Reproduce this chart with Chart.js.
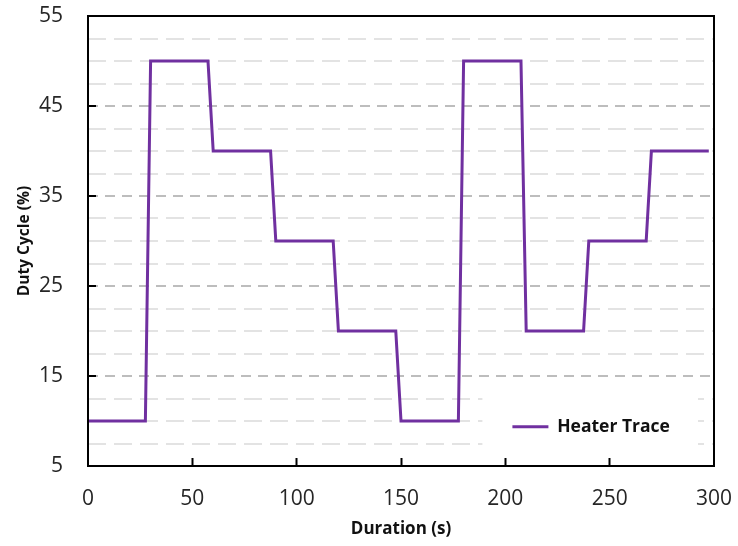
<!DOCTYPE html>
<html><head><meta charset="utf-8">
<script src="https://cdn.jsdelivr.net/npm/chart.js@4"></script>
<style>html,body{margin:0;padding:0;background:#fff}#wrap{width:738px;height:546px;position:relative}</style>
</head><body><div id="wrap"><canvas id="c" width="738" height="546"></canvas></div>
<script>
const seriesName = 'Heater Trace';
const durationS = [0, 27.5, 30, 57.5, 60, 87.5, 90, 117.5, 120, 147.5, 150, 177.5, 180, 207.5, 210, 237.5, 240, 267.5, 270, 297.5];
const dutyCyclePct = [10, 10, 50, 50, 40, 40, 30, 30, 20, 20, 10, 10, 50, 50, 20, 20, 30, 30, 40, 40];
const xTicks = [0, 50, 100, 150, 200, 250, 300];
const yMajorTicks = [5, 15, 25, 35, 45, 55];
const yMinorTicks = [7.5, 10, 12.5, 17.5, 20, 22.5, 27.5, 30, 32.5, 37.5, 40, 42.5, 47.5, 50, 52.5];
const xTitle = 'Duration (s)';
const yTitle = 'Duty Cycle (%)';

const FONT = "'Open Sans', 'Liberation Sans', sans-serif";
const LINE = '#7030A0';
const CLEAR = 'rgba(0,0,0,0)';
const yAll = yMajorTicks.concat(yMinorTicks).sort((a, b) => a - b);
const isMajor = v => yMajorTicks.includes(v);
const yMin = yMajorTicks[0], yMax = yMajorTicks[yMajorTicks.length - 1];
const xMin = xTicks[0], xMax = xTicks[xTicks.length - 1];
const isEdgeY = v => v === yMin || v === yMax;
const isEdgeX = v => v === xMin || v === xMax;

const legendPlacer = {
  id: 'legendPlacer',
  afterLayout(chart) {
    const lg = chart.legend, a = chart.chartArea;
    lg.left = a.left + a.width * 0.662;
    lg.right = a.right - 16;
    lg.top = a.bottom - 58;
    lg.bottom = a.bottom - 18;
    if (!lg._wrapped) {
      const orig = lg.draw.bind(lg);
      lg.draw = function (area) {
        const ctx = this.ctx;
        ctx.save();
        ctx.fillStyle = '#ffffff';
        ctx.fillRect(this.left - 20, this.top - 12, this.right - this.left + 20, this.bottom - this.top + 12);
        ctx.restore();
        orig(area);
      };
      lg._wrapped = true;
    }
  }
};

const frame = {
  id: 'frame',
  afterDraw(chart) {
    const a = chart.chartArea, ctx = chart.ctx;
    ctx.save();
    ctx.strokeStyle = '#000';
    ctx.lineWidth = 2;
    ctx.strokeRect(a.left, a.top, a.right - a.left, a.bottom - a.top);
    ctx.restore();
  }
};

new Chart(document.getElementById('c'), {
  type: 'line',
  data: {
    datasets: [{
      label: seriesName,
      data: durationS.map((x, i) => ({ x: x, y: dutyCyclePct[i] })),
      borderColor: LINE,
      backgroundColor: LINE,
      borderWidth: 3,
      pointRadius: 0,
      tension: 0,
      fill: false,
      borderJoinStyle: 'miter'
    }]
  },
  options: {
    responsive: false,
    devicePixelRatio: 1,
    animation: false,
    layout: { padding: { left: 0, top: 16, right: 24, bottom: 0 } },
    plugins: {
      tooltip: { enabled: false },
      legend: {
        position: 'chartArea',
        align: 'start',
        labels: {
          usePointStyle: true,
          pointStyle: 'line',
          pointStyleWidth: 36,
          padding: 10,
          color: '#111',
          font: { family: FONT, size: 17.5, weight: 'bold' }
        }
      }
    },
    scales: {
      x: {
        type: 'linear',
        min: xMin,
        max: xMax,
        afterBuildTicks: s => { s.ticks = xTicks.map(v => ({ value: v })); },
        afterFit: s => { s.height = 80; s.paddingLeft = 0; s.paddingRight = 0; },
        ticks: {
          autoSkip: false,
          maxRotation: 0,
          padding: 28,
          color: '#262626',
          font: { family: FONT, size: 21 }
        },
        grid: {
          drawOnChartArea: false,
          drawTicks: true,
          tickLength: -8,
          tickWidth: 2,
          tickColor: c => (c.tick && !isEdgeX(c.tick.value)) ? '#000' : CLEAR
        },
        border: { display: false },
        title: {
          display: true,
          text: xTitle,
          color: '#111',
          font: { family: FONT, size: 17, weight: 'bold' },
          padding: { top: 0, bottom: 7 }
        }
      },
      y: {
        type: 'linear',
        position: 'left',
        min: yMin,
        max: yMax,
        afterBuildTicks: s => { s.ticks = yAll.map(v => ({ value: v })); },
        afterFit: s => { s.width = 88; s.paddingTop = 0; s.paddingBottom = 0; },
        ticks: {
          autoSkip: false,
          padding: 33,
          color: '#262626',
          font: { family: FONT, size: 21 },
          callback: v => isMajor(v) ? String(v) : ''
        },
        grid: {
          drawTicks: true,
          tickLength: -8,
          tickWidth: 2,
          lineWidth: 2,
          color: c => {
            if (!c.tick) return CLEAR;
            const v = c.tick.value;
            if (isEdgeY(v)) return CLEAR;
            return isMajor(v) ? '#BDBDBD' : '#E3E3E3';
          },
          tickColor: c => (c.tick && isMajor(c.tick.value) && !isEdgeY(c.tick.value)) ? '#000' : CLEAR
        },
        border: {
          display: false,
          dash: c => (c.tick ? (isMajor(c.tick.value) ? [10, 7] : [18, 8]) : [])
        },
        title: {
          display: true,
          text: yTitle,
          color: '#111',
          font: { family: FONT, size: 15.5, weight: 'bold' },
          padding: { top: 15, bottom: 0 }
        }
      }
    }
  },
  plugins: [legendPlacer, frame]
});
</script>
</body></html>
